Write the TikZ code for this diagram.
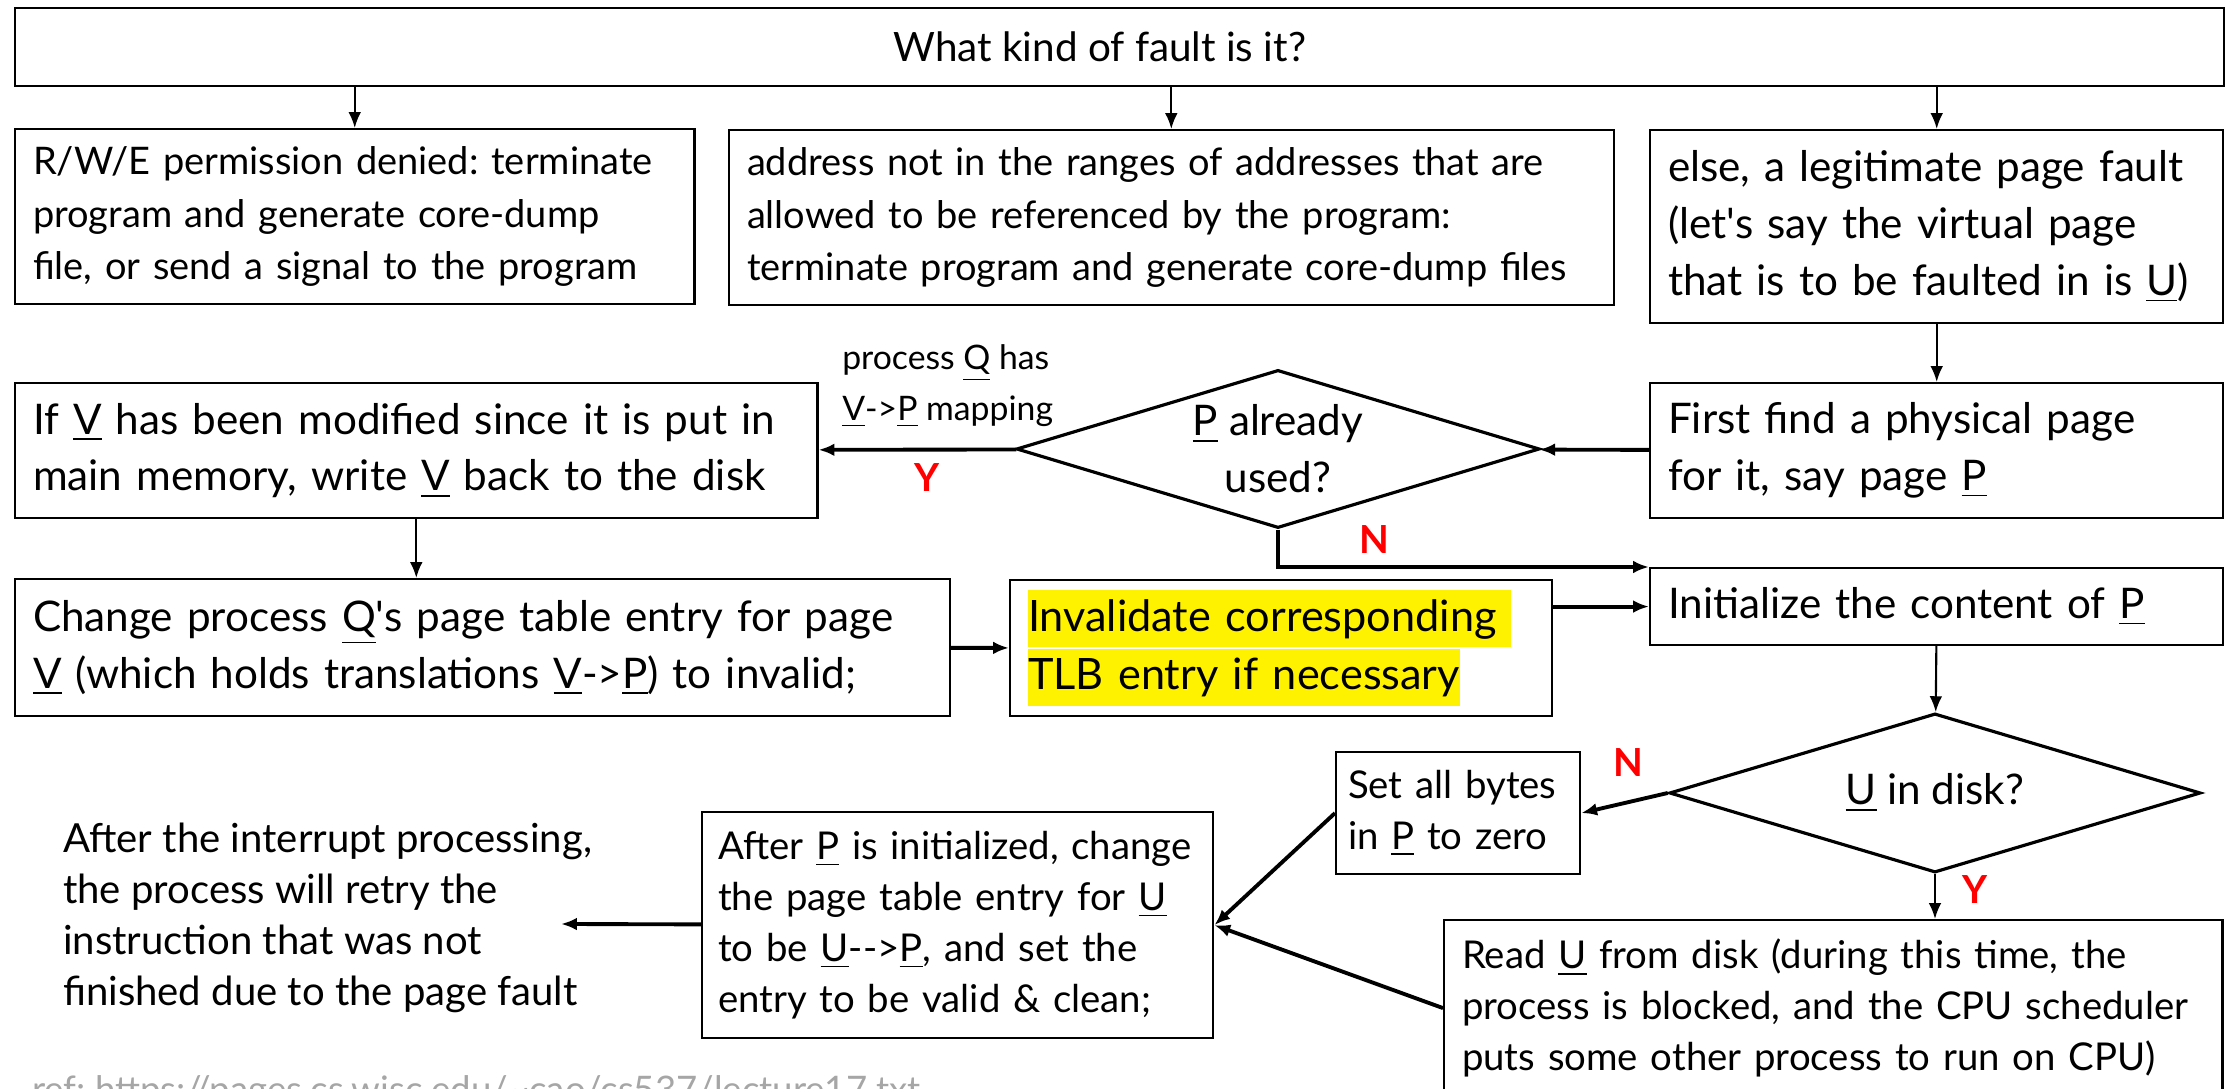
\documentclass[tikz,border=0pt]{standalone}
\usepackage{fontspec}
\setmainfont{Lato}
\usetikzlibrary{arrows.meta,positioning,shapes.geometric}
\frenchspacing

\newcommand{\hlt}[1]{{\setlength{\fboxsep}{0pt}\colorbox{yellow}{\rule[-4.6pt]{0pt}{16.2pt}#1}}}

\tikzset{
  box/.style={draw, line width=0.6pt, anchor=north west, align=left, inner xsep=0.18cm, inner ysep=0pt},
  big/.style={font=\fontsize{12}{16.2}\selectfont},
  mid/.style={font=\fontsize{10.9}{14.5}\selectfont},
  small/.style={font=\fontsize{10.8}{14.9}\selectfont},
  test/.style={draw, diamond, aspect=3.3, line width=0.9pt, inner sep=0pt, big, align=center},
  yn/.style={text=red, font=\bfseries\fontsize{11}{13}\selectfont},
  link/.style={line width=0.6pt},
  boldlink/.style={line width=1.1pt},
}

\begin{document}
\begin{tikzpicture} [->,>={Latex[length=4.5pt,width=3.6pt]},x=0.01cm,y=-0.01cm,line width=0.6pt]
  \useasboundingbox (0,0) rectangle (2226,1089);

  \node[box, font=\fontsize{11.5}{14}\selectfont, align=center, minimum width=22.08cm, minimum height=0.78cm] (kind) at (14,7) {What kind of fault is it?\hspace*{0.4cm}};
  \node[box, small, text width=6.43cm, minimum height=1.75cm] (perm) at (14,128)
    {R/W/E permission denied: terminate\\ program and generate core-dump\\ file, or send a signal to the program};
  \node[box, small, text width=8.48cm, minimum height=1.75cm] (addr) at (728,129)
    {address not in the ranges of addresses that are\\ allowed to be referenced by the program:\\ terminate program and generate core-dump files};
  \node[box, big, text width=5.37cm, minimum height=1.93cm] (legit) at (1649,129)
    {else, a legitimate page fault\\ (let\textquotesingle s say the virtual page\\ that is to be faulted in is \underline{U})};
  \node[box, big, text width=5.37cm, minimum height=1.35cm] (find) at (1649,382)
    {First find a physical page\\ for it, say page \underline{P}};
  \node[test, minimum width=5.23cm, minimum height=1.58cm] (used) at (1278,449) {\underline{P} already\\ used?};
  \node[box, big, text width=7.66cm, minimum height=1.35cm] (dirty) at (14,382)
    {If \underline{V} has been modified since it is put in\\ main memory, write \underline{V} back to the disk};
  \node[box, big, text width=8.98cm, minimum height=1.37cm] (inval) at (14,578)
    {Change process \underline{Q}\textquotesingle s page table entry for page\\ \underline{V} (which holds translations \underline{V}->\underline{P}) to invalid;};
  \node[box, font=\fontsize{12.3}{16.6}\selectfont, text width=5.06cm, minimum height=1.36cm] (tlb) at (1009,579)
    {\hlt{Invalidate corresponding\ }\\ \hlt{TLB entry if necessary}};
  \node[box, big, text width=5.37cm, minimum height=0.77cm] (init) at (1649,567)
    {Initialize the content of \underline{P}};
  \node[test, minimum width=5.31cm, minimum height=1.59cm] (indisk) at (1935,793) {\underline{U} in disk?};
  \node[box, mid, inner xsep=0.12cm, text width=2.2cm, minimum height=1.22cm] (zero) at (1335,751)
    {Set all bytes\\ in \underline{P} to zero};
  \node[box, mid, text width=7.42cm, minimum height=1.76cm] (read) at (1443,919)
    {Read \underline{U} from disk (during this time, the\\ process is blocked, and the CPU scheduler\\ puts some other process to run on CPU)};
  \node[box, mid, inner xsep=0.16cm, text width=4.79cm, minimum height=2.26cm] (update) at (701,811)
    {After \underline{P} is initialized, change\\ the page table entry for \underline{U}\\ to be \underline{U}-{}->\underline{P}, and set the\\ entry to be valid \& clean;};
  \node[font=\fontsize{11.4}{14.5}\selectfont, align=left, inner sep=0pt, anchor=west] (retry) at (62,918)
    {After the interrupt processing,\\ the process will retry the\\ instruction that was not\\ finished due to the page fault};
  \coordinate (back) at (561,924);
  \node[font=\fontsize{10.4}{14}\selectfont, text=gray!70, anchor=base west, inner sep=0pt] (ref) at (31,1103)
    {ref: https://pages.cs.wisc.edu/\textasciitilde cao/cs537/lecture17.txt};

  % fault kinds
  \path[link]
    (kind.south -| perm.north) edge (perm.north)
    (kind.south -| addr.north) edge (addr.north)
    (kind.south -| legit.north) edge (legit.north)
    (legit) edge (find)
    (dirty.south) edge (dirty.south |- inval.north)
    (init) edge (indisk)
    (indisk.south) edge node[yn, right, xshift=0.15cm, pos=.35] {Y} (indisk.south |- read.north);

  % page replacement
  \path[boldlink]
    (find) edge (used)
    (used) edge node[yn, below, pos=.45] {Y}
                node[font=\fontsize{9.6}{14.5}\selectfont, anchor=south west, inner sep=0pt, yshift=0.2cm, pos=.89, align=left] {process \underline{Q} has\\ \underline{V}->\underline{P} mapping} (dirty)
    (inval) edge (tlb)
    (tlb.east |- init.west) edge (init.west)
    (indisk.west) edge node[yn, above=0.12cm, pos=.45] {N} (zero.east)
    (zero.west) edge (update.east)
    (read.west) edge (update.east)
    (update) edge (back);
  \draw[boldlink] (used.south) |- node[yn, above, pos=.63] {N} (init.north west);
\end{tikzpicture}
\end{document}
